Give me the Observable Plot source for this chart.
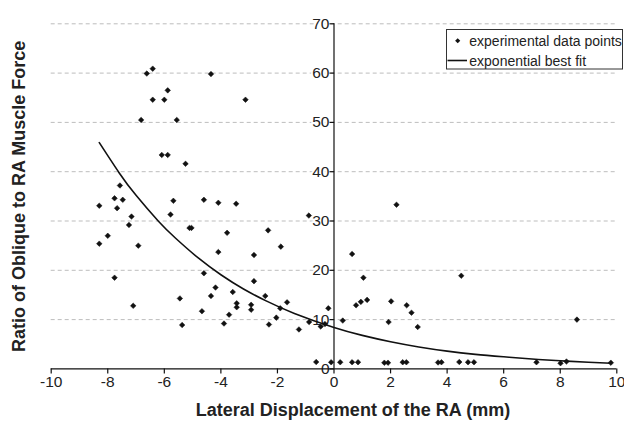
<!DOCTYPE html>
<html>
<head>
<meta charset="utf-8">
<script src="https://cdn.jsdelivr.net/npm/d3@7"></script>
<script src="https://cdn.jsdelivr.net/npm/@observablehq/plot@0.6"></script>
<style>
  html, body { margin: 0; padding: 0; background: white; }
  #chart { width: 624px; height: 421px; }
</style>
</head>
<body>
<div id="chart"></div>
<script>
// Experimental data points: lateral displacement (mm) and force ratio
const dispX = [
  -6.62, -6.41, -4.35, -5.88, -6.41, -6.00, -3.13, -6.82, -5.56, -6.09,
  -5.88, -5.25, -7.57, -7.76, -7.47, -5.68, -4.60, -8.30, -7.67, -4.09,
  -3.46, -5.78, -7.16, -7.25, -5.11, -5.04, -8.00, -8.30, -6.92, -3.78,
  -2.33, -4.09, -2.83, -1.88, -0.89, -4.60, -7.76, -2.83, -4.19, -3.58,
  -5.45, -4.35, -2.43, -1.66, -3.44, -3.44, -2.93, -2.93, -1.90, -7.10,
  -4.67, -3.71, -2.04, -5.37, -3.89, -2.30, -1.24, -0.88, -0.47, -0.32,
  -0.20, 0.31, 0.64, 1.04, 0.78, 0.95, 1.17, 1.93, 2.02, 2.21,
  2.57, 2.74, 2.96, 4.50, 8.59,
  -0.63, -0.10, 0.22, 0.64, 0.85, 1.78, 1.91, 2.43, 2.56, 3.68,
  3.80, 4.43, 4.74, 4.95, 7.16, 8.01, 8.22, 9.79
];
const ratioY = [
  59.9, 60.9, 59.8, 56.5, 54.6, 54.6, 54.6, 50.5, 50.5, 43.4,
  43.4, 41.6, 37.2, 34.6, 34.3, 34.1, 34.3, 33.1, 32.6, 33.7,
  33.5, 31.3, 30.9, 29.2, 28.6, 28.6, 27.0, 25.4, 25.0, 27.6,
  28.1, 23.7, 23.1, 24.8, 31.1, 19.4, 18.5, 17.8, 16.5, 15.6,
  14.3, 14.8, 14.8, 13.5, 13.3, 12.5, 13.0, 12.0, 12.3, 12.8,
  11.7, 11.0, 10.4, 8.9, 9.2, 9.0, 8.0, 9.5, 8.6, 9.1,
  12.3, 9.8, 23.3, 18.5, 12.9, 13.6, 14.0, 9.5, 13.7, 33.3,
  12.9, 11.4, 8.5, 18.9, 10.0,
  1.4, 1.35, 1.35, 1.35, 1.35, 1.25, 1.25, 1.35, 1.35, 1.3,
  1.35, 1.4, 1.35, 1.35, 1.35, 1.15, 1.5, 1.25
];

// Exponential best fit curve
const fitX = [-8.3, -7.6, -7.0, -6.2, -5.6, -4.8, -4.0, -3.2, -2.4, -1.4, 0, 1, 2, 3, 4, 5, 6, 7, 8, 9, 9.8];
const fitY = [45.9, 39.8, 35.2, 29.9, 26.5, 22.5, 19.1, 16.2, 13.8, 11.25, 8.4, 6.8, 5.5, 4.45, 3.6, 2.95, 2.45, 2.0, 1.65, 1.35, 1.15];

// Tick labels
const xTicks = [-10, -8, -6, -4, -2, 0, 2, 4, 6, 8, 10];
const yTicks = [0, 10, 20, 30, 40, 50, 60, 70];
const gridTicks = [10, 20, 30, 40, 50, 60, 70];

const xTitle = "Lateral Displacement of the RA (mm)";
const yTitle = "Ratio of Oblique to RA Muscle Force";
const legendLabels = ["experimental data points", "exponential best fit"];

const points = dispX.map((x, i) => ({x, y: ratioY[i]}));
const fit = fitX.map((x, i) => ({x, y: fitY[i]}));

const leftTick = {
  draw(context) { context.moveTo(-4.5, 0); context.lineTo(0, 0); }
};

const font = "'Liberation Sans', Arial, Helvetica, sans-serif";

const chart = Plot.plot({
  width: 624,
  height: 421,
  marginLeft: 50.7,
  marginRight: 7.7,
  marginTop: 23.3,
  marginBottom: 52.6,
  style: {fontFamily: font, fontSize: "15.5px", background: "white", color: "#222"},
  x: {domain: [-10, 10]},
  y: {domain: [0, 70], axis: null},
  marks: [
    Plot.ruleY(gridTicks, {stroke: "#bdbdbd", strokeWidth: 1, strokeDasharray: "4,3"}),
    Plot.text(yTicks, {x: () => 0, y: d => d, text: d => String(d), textAnchor: "end", dx: -4.5,
      fill: "#222", stroke: "white", strokeWidth: 4, fontSize: 15.5}),
    Plot.ruleY([0], {stroke: "#111", strokeWidth: 1.2}),
    Plot.ruleX([0], {y1: 0, y2: 70, stroke: "#111", strokeWidth: 1.2}),
    Plot.dot(yTicks, {x: () => 0, y: d => d, symbol: leftTick, fill: "none", stroke: "#111", strokeWidth: 1.2}),
    Plot.axisX({ticks: xTicks, tickSize: 5, tickPadding: 2, fontSize: 15.5, tickFormat: d => String(d), label: null, stroke: "#111", strokeWidth: 1.2}),
    Plot.line(fit, {x: "x", y: "y", curve: "natural", stroke: "#111", strokeWidth: 1.6}),
    Plot.dot(points, {x: "x", y: "y", symbol: "diamond2", r: 2.5, fill: "#111", stroke: "#111", strokeWidth: 0.5}),
    Plot.text([xTitle], {frameAnchor: "bottom", dx: 19, dy: 41, lineAnchor: "middle", textAnchor: "middle", text: d => d,
      fontWeight: "bold", fontSize: 18, fill: "#222"}),
    Plot.text([yTitle], {frameAnchor: "left", dx: -32, rotate: -90, textAnchor: "middle", lineAnchor: "middle", text: d => d,
      fontWeight: "bold", fontSize: 18, fill: "#222"})
  ]
});

document.getElementById("chart").appendChild(chart);

// Legend inside the plot area (top right)
const svg = d3.select(chart);
const lg = svg.append("g").attr("font-family", font).attr("font-size", 14).attr("fill", "#222")
  .attr("text-anchor", "start");
lg.append("rect").attr("x", 446.5).attr("y", 29.5).attr("width", 176).attr("height", 39.5)
  .attr("fill", "white").attr("stroke", "#333").attr("stroke-width", 1);
lg.append("path").attr("d", d3.symbol(d3.symbolDiamond2, Math.PI * 2.3 * 2.3)())
  .attr("transform", "translate(457.7,40.8)").attr("fill", "#111");
lg.append("line").attr("x1", 447.5).attr("x2", 467).attr("y1", 60.5).attr("y2", 60.5)
  .attr("stroke", "#111").attr("stroke-width", 1.6);
lg.selectAll("text.lab").data(legendLabels).join("text").attr("class", "lab")
  .attr("x", 469.3).attr("y", (d, i) => 40.8 + i * 20).attr("dy", "0.35em").text(d => d);
</script>
</body>
</html>
